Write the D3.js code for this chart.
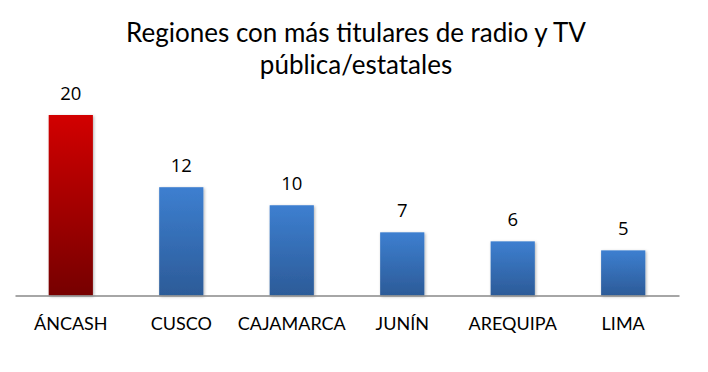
<!DOCTYPE html>
<html><head><meta charset="utf-8">
<script src="https://cdn.jsdelivr.net/npm/d3@7"></script>
<style>body{margin:0;background:#fff}svg{display:block}</style>
</head><body>
<svg id="c" width="708" height="372"></svg>
<script>
const categories = ["ÁNCASH","CUSCO","CAJAMARCA","JUNÍN","AREQUIPA","LIMA"];
const values = [20,12,10,7,6,5];
const highlight = ["ÁNCASH"];
const titleLines = ["Regiones con más titulares de radio y TV","pública/estatales"];

const svg = d3.select("#c");
const W=708,H=372;
const x0=15,x1=679,yBase=295.5;
const x = d3.scaleBand().domain(categories).range([x0,x1]).paddingInner(0.6).paddingOuter(0.305);
const y = d3.scaleLinear().domain([0,20]).range([yBase,115]);

const defs = svg.append("defs");
const gr = defs.append("linearGradient").attr("id","gRed").attr("x1",0).attr("y1",0).attr("x2",0).attr("y2",1);
gr.append("stop").attr("offset","0%").attr("stop-color","#d20000");
gr.append("stop").attr("offset","100%").attr("stop-color","#760000");
const gb = defs.append("linearGradient").attr("id","gBlue").attr("x1",0).attr("y1",0).attr("x2",0).attr("y2",1);
gb.append("stop").attr("offset","0%").attr("stop-color","#3d7fd0");
gb.append("stop").attr("offset","100%").attr("stop-color","#2c5b98");
const f = defs.append("filter").attr("id","sh").attr("x","-20%").attr("y","-10%").attr("width","140%").attr("height","120%");
f.append("feDropShadow").attr("dx",1).attr("dy",1).attr("stdDeviation",1.5).attr("flood-color","#000").attr("flood-opacity",0.3);

// title
svg.append("g").selectAll("text").data(titleLines).join("text")
  .attr("x",356).attr("y",(d,i)=>42+i*32)
  .attr("text-anchor","middle")
  .attr("font-family","Lato, sans-serif").attr("font-size",26)
  .attr("fill","#000").text(d=>d);

// bars
svg.append("g").selectAll("rect").data(values).join("rect")
  .attr("x",(d,i)=>x(categories[i]))
  .attr("width",x.bandwidth())
  .attr("y",d=>y(d))
  .attr("height",d=>yBase-y(d))
  .attr("fill",(d,i)=>highlight.includes(categories[i])?"url(#gRed)":"url(#gBlue)")
  .attr("filter","url(#sh)");

// axis
const ax = svg.append("g").attr("transform",`translate(0,${yBase})`)
  .call(d3.axisBottom(x).tickSize(0).tickPadding(18));
ax.select(".domain").attr("stroke","#888").attr("stroke-width",1.5);
ax.selectAll("text").attr("font-family","Lato, sans-serif").attr("font-size",18).attr("fill","#000").attr("dy","0.9em");

// value labels
svg.append("g").selectAll("text").data(values).join("text")
  .attr("x",(d,i)=>x(categories[i])+x.bandwidth()/2)
  .attr("y",d=>y(d)-15)
  .attr("text-anchor","middle")
  .attr("font-family","'Open Sans', sans-serif").attr("font-size",18.5)
  .attr("fill","#000").text(d=>d);
</script>
</body></html>
